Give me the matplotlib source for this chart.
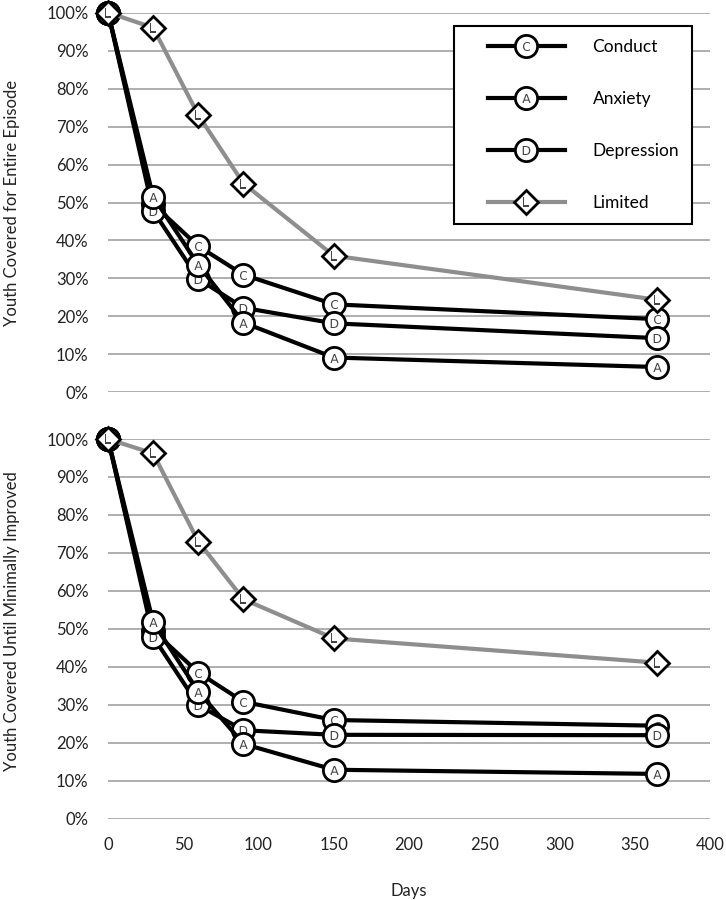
import numpy as np
import matplotlib.pyplot as plt
from matplotlib.legend_handler import HandlerTuple
from matplotlib.ticker import PercentFormatter

plt.rcParams['font.family'] = ['Lato', 'DejaVu Sans']

# --- data ---
days = [0, 30, 60, 90, 150, 365]

entire_conduct = [100, 49.5, 38.5, 31.0, 23.2, 19.3]
entire_anxiety = [100, 51.5, 33.6, 18.4, 9.2, 6.7]
entire_depression = [100, 47.8, 29.9, 22.3, 18.2, 14.3]
entire_limited = [100, 96.0, 73.0, 55.0, 36.0, 24.4]

improved_conduct = [100, 49.5, 38.5, 30.8, 26.0, 24.5]
improved_anxiety = [100, 51.7, 33.5, 19.7, 12.9, 11.8]
improved_depression = [100, 47.9, 29.9, 23.3, 22.1, 22.0]
improved_limited = [100, 96.2, 73.0, 57.8, 47.5, 41.1]

labels = ["Conduct", "Anxiety", "Depression", "Limited"]
letters = ["C", "A", "D", "L"]
ylabels = ["Youth Covered for Entire Episode", "Youth Covered Until Minimally Improved"]

# --- styles ---
line_colors = ["black", "black", "black", "#8e8e8e"]
markers = ["o", "o", "o", "D"]
msizes = [16, 16, 16, 12]
zorders = [3, 5, 4, 6]   # conduct, anxiety, depression, limited
grid_color = "#a8a8a8"


class PaddedTuple(HandlerTuple):
    # overlay circle + letter, and leave some blank room left of the line
    def create_artists(self, legend, orig_handle, xdescent, ydescent,
                       width, height, fontsize, trans):
        shift = 1.2 * fontsize
        return super().create_artists(legend, orig_handle, xdescent - shift, ydescent,
                                      width - shift, height, fontsize, trans)


fig = plt.figure(figsize=(7.26, 9), dpi=100)
ax_top = fig.add_axes([0.1488, 0.5639, 0.8292, 0.4222])
ax_bot = fig.add_axes([0.1488, 0.0903, 0.8292, 0.4219])


def draw_panel(ax, series, ylabel):
    handles = []
    for i, vals in enumerate(series):
        ln, = ax.plot(days, vals, color=line_colors[i], lw=3, marker=markers[i],
                      ms=msizes[i], mfc="white", mec="black", mew=2,
                      zorder=zorders[i], clip_on=False)
        lt, = ax.plot(days, vals, ls="none", marker=r"$\mathsf{%s}$" % letters[i],
                      ms=6.5, color="#444444", mew=0,
                      zorder=zorders[i] + 0.5, clip_on=False)
        handles.append((ln, lt))
    ax.set_xlim(0, 400)
    ax.set_ylim(0, 100)
    ax.set_yticks(np.arange(0, 101, 10))
    ax.yaxis.set_major_formatter(PercentFormatter(decimals=0))
    ax.set_xticks(np.arange(0, 401, 50))
    ax.grid(axis="y", color=grid_color, lw=1.3)
    ax.set_axisbelow(True)
    for s in ax.spines.values():
        s.set_visible(False)
    ax.tick_params(length=0, labelsize=12, colors="#222222", pad=14)
    ax.tick_params(axis="x", pad=13)
    ax.set_ylabel(ylabel, fontsize=12, color="#222222")
    ax.yaxis.set_label_coords(-0.146, 0.5)
    return handles


h_top = draw_panel(ax_top, [entire_conduct, entire_anxiety, entire_depression, entire_limited], ylabels[0])
draw_panel(ax_bot, [improved_conduct, improved_anxiety, improved_depression, improved_limited], ylabels[1])

ax_top.tick_params(axis="x", labelbottom=False)
ax_bot.set_xlabel("Days", fontsize=12, color="#222222", labelpad=22)
ax_bot.yaxis.set_label_coords(-0.146, 0.52)

leg = ax_top.legend(h_top, labels, handler_map={tuple: PaddedTuple(ndivide=1, pad=0)},
                    loc="upper left", bbox_to_anchor=(454 / 726, 1 - 26 / 900),
                    bbox_transform=fig.transFigure, borderaxespad=0,
                    fontsize=12.5, numpoints=1,
                    handlelength=5.63, handletextpad=1.6, labelspacing=2.08,
                    borderpad=0.75, fancybox=False, framealpha=1, edgecolor="black")
leg.get_frame().set_linewidth(1.5)
leg.set_zorder(10)

fig.savefig("out.png", dpi=100)
